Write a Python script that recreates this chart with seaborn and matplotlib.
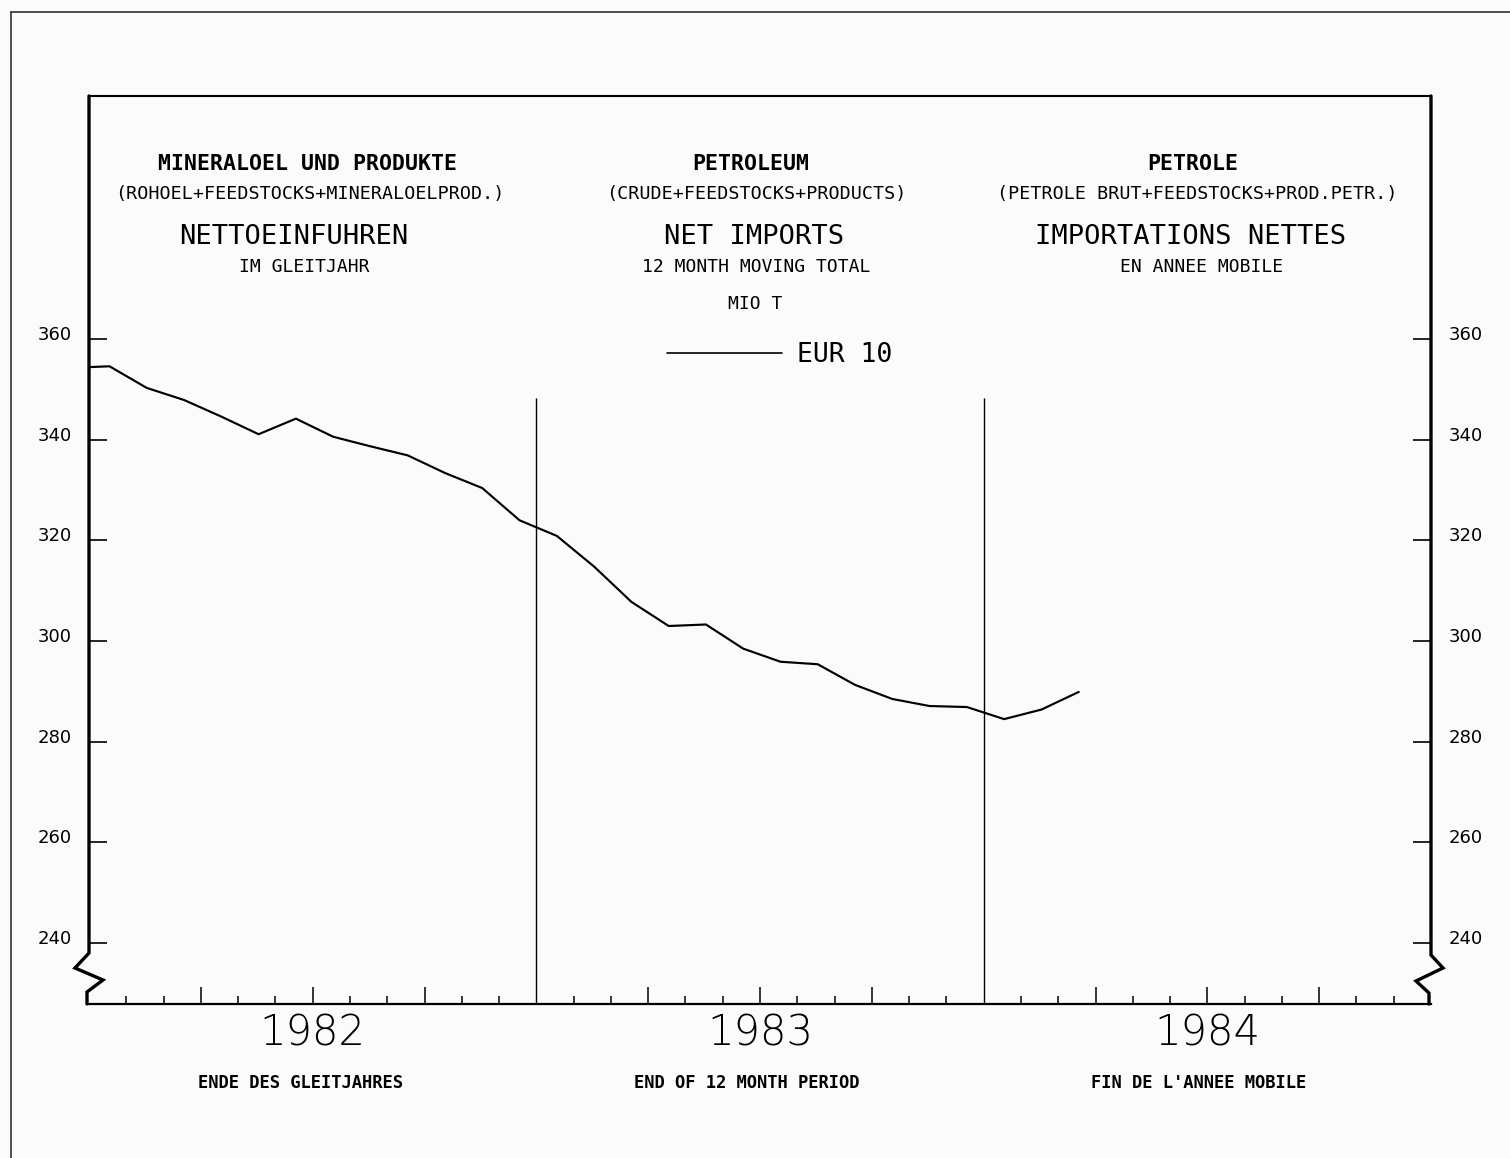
import numpy as np
import pandas as pd
import matplotlib
matplotlib.use("Agg")
import matplotlib.pyplot as plt
import matplotlib.transforms as mtransforms
from matplotlib.lines import Line2D
import seaborn as sns

# ---------------- data ----------------
# month index: 0 = January 1982 (12-month moving total, Mio t)
month_index = [-1, 0, 1, 2, 3, 4, 5, 6, 7, 8, 9, 10, 11,
               12, 13, 14, 15, 16, 17, 18, 19, 20, 21, 22, 23,
               24, 25, 26]
net_imports = [354.3, 354.6, 350.3, 347.9, 344.6, 341.1, 344.2, 340.6, 338.7,
               336.9, 333.4, 330.4, 324.0,
               320.9, 314.8, 307.8, 303.0, 303.3, 298.5, 295.9, 295.4, 291.3,
               288.5, 287.1, 286.9,
               284.5, 286.4, 289.9]
series_name = "EUR 10"

years = ["1982", "1983", "1984"]
y_ticks = [240, 260, 280, 300, 320, 340, 360]
y_tick_labels = ["240", "260", "280", "300", "320", "340", "360"]

titles_de = ["MINERALOEL UND PRODUKTE", "(ROHOEL+FEEDSTOCKS+MINERALOELPROD.)",
             "NETTOEINFUHREN", "IM GLEITJAHR"]
titles_en = ["PETROLEUM", "(CRUDE+FEEDSTOCKS+PRODUCTS)",
             "NET IMPORTS", "12 MONTH MOVING TOTAL"]
titles_fr = ["PETROLE", "(PETROLE BRUT+FEEDSTOCKS+PROD.PETR.)",
             "IMPORTATIONS NETTES", "EN ANNEE MOBILE"]
unit_label = "MIO T"
period_labels = ["ENDE DES GLEITJAHRES", "END OF 12 MONTH PERIOD",
                 "FIN DE L'ANNEE MOBILE"]

# ---------------- style ----------------
sns.set_theme(style="white")
plt.rcParams["font.family"] = ["DejaVu Sans"]
plt.rcParams["text.color"] = "black"
MONO = "DejaVu Sans Mono"

W, H = 1510, 1158
fig = plt.figure(figsize=(W / 100, H / 100), dpi=100, facecolor="#fbfbfb")


def fx(x):
    return x / W


def fy(y):
    return 1 - y / H


AX_L, AX_R, AX_T, AX_B = 89, 1431, 96, 1004
ax = fig.add_axes([fx(AX_L), fy(AX_B), (AX_R - AX_L) / W, (AX_B - AX_T) / H])
ax.set_facecolor("none")

df = pd.DataFrame({"month": np.array(month_index) + 0.55,
                   "value": net_imports})
sns.lineplot(data=df, x="month", y="value", color="black", linewidth=1.55,
             ax=ax, label=series_name)

ax.set_xlim(0, 36)
ax.set_ylim(227.9, 408.3)
ax.set_xlabel("")
ax.set_ylabel("")

# year separators
ax.vlines([12, 24], 227.9, 348.2, color="black", linewidth=1.0)

# y ticks
ax.set_yticks(y_ticks)
ax.set_yticklabels(y_tick_labels)
ax.tick_params(axis="y", which="major", direction="in", length=13, width=1.2,
               left=True, right=True, labelleft=True, labelright=True,
               labelsize=13, pad=12.5, colors="black")
offset = mtransforms.ScaledTranslation(0, 6 / 100, fig.dpi_scale_trans)
for t in ax.yaxis.get_major_ticks():
    t.label1.set_transform(t.label1.get_transform() + offset)
    t.label2.set_transform(t.label2.get_transform() + offset)

# x ticks (months, quarters long)
major = [m for m in range(1, 36) if m % 3 == 0 and m % 12 != 0]
minor = [m for m in range(1, 36) if m % 3 != 0]
ax.set_xticks(major)
ax.set_xticklabels([""] * len(major))
ax.set_xticks(minor, minor=True)
ax.tick_params(axis="x", which="major", direction="in", length=12, width=1.1,
               bottom=True, top=False, colors="black")
ax.tick_params(axis="x", which="minor", direction="in", length=5.8, width=1.1,
               bottom=True, top=False, colors="black")

# spines
for s in ["left", "right"]:
    ax.spines[s].set_visible(False)
ax.spines["top"].set_color("black")
ax.spines["top"].set_linewidth(1.5)
ax.spines["bottom"].set_color("black")
ax.spines["bottom"].set_linewidth(1.6)


def axpt(pts):
    xs = [(px - AX_L) / (AX_R - AX_L) for px, _ in pts]
    ys = [(AX_B - py) / (AX_B - AX_T) for _, py in pts]
    return xs, ys


left_pts = [(89, 96), (89, 953), (75, 968), (103, 980), (87, 992), (87, 1004)]
right_pts = [(1431, 96), (1431, 955), (1443, 968), (1416, 981), (1429, 993),
             (1429, 1004)]
for pts in (left_pts, right_pts):
    xs, ys = axpt(pts)
    ax.add_line(Line2D(xs, ys, transform=ax.transAxes, color="black",
                       linewidth=2.4, clip_on=False, solid_joinstyle="miter"))

# legend
leg = ax.legend(loc="center left", bbox_to_anchor=(fx(667), fy(355)),
                bbox_transform=fig.transFigure, frameon=False, borderpad=0,
                borderaxespad=0, handlelength=4.36, handletextpad=0.57,
                prop={"family": MONO, "size": 19})
for txt in leg.get_texts():
    txt.set_color("black")
for h in leg.get_lines():
    h.set_linewidth(1.2)

# ---------------- texts ----------------
def label(xc, yc, s, size, weight="normal", family=MONO):
    base = yc + 0.365 * size * 100 / 72
    fig.text(fx(xc), fy(base), s, ha="center", va="baseline", fontsize=size,
             fontweight=weight, family=family, color="black")


rows_y = [162, 192, 234, 265]
rows_size = [15.5, 13.2, 19.5, 13]
rows_weight = ["bold", "normal", "normal", "normal"]
cols = [(titles_de, [308, 310, 294, 304]),
        (titles_en, [751, 756, 754, 756]),
        (titles_fr, [1193, 1197, 1191, 1202])]
for texts, xcs in cols:
    for s, xc, yc, sz, wt in zip(texts, xcs, rows_y, rows_size, rows_weight):
        label(xc, yc, s, sz, wt)
label(755, 302, unit_label, 13)

# year labels below the axis
btrans = mtransforms.blended_transform_factory(ax.transData, fig.transFigure)
for i, yr in enumerate(years):
    ax.text(6 + 12 * i, fy(1030 + 0.365 * 30 * 100 / 72), yr, transform=btrans,
            ha="center", va="baseline", fontsize=30, fontweight="light",
            color="black")
for xc, s in zip([300, 747, 1199], period_labels):
    label(xc, 1082, s, 12.3, "bold")

# page frame
fig.add_artist(Line2D([fx(11), fx(1510)], [fy(12), fy(12)], color="#333333",
                      linewidth=1.2))
fig.add_artist(Line2D([fx(11), fx(11)], [fy(12), fy(1158)], color="#333333",
                      linewidth=1.2))

fig.savefig("out.png", dpi=100, facecolor=fig.get_facecolor())
